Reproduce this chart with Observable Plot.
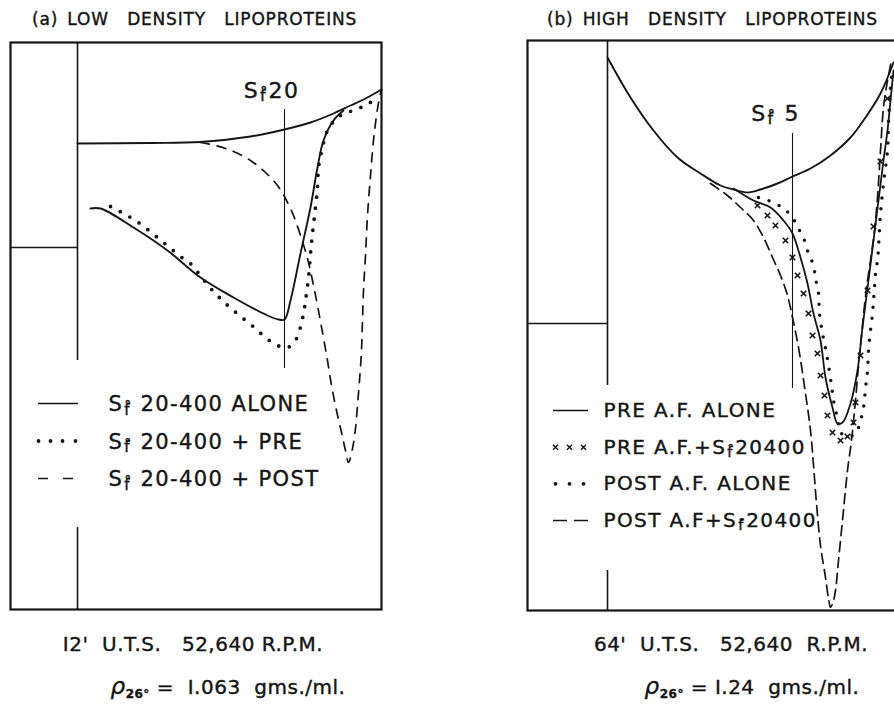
<!DOCTYPE html>
<html><head><meta charset="utf-8">
<script src="https://cdn.jsdelivr.net/npm/d3@7"></script>
<script src="https://cdn.jsdelivr.net/npm/@observablehq/plot@0.6"></script>
<style>
html,body{margin:0;padding:0;background:#fff;}
body{width:894px;height:712px;overflow:hidden;position:relative;font-family:"DejaVu Sans",sans-serif;color:#151515;}
.t{position:absolute;white-space:pre;font-size:17px;line-height:17px;letter-spacing:0.8px;word-spacing:3px;-webkit-text-stroke:0.4px #151515;}
.cap{position:absolute;white-space:pre;font-size:20px;line-height:20px;text-align:center;width:400px;letter-spacing:0.5px;-webkit-text-stroke:0.4px #151515;}
.cap i{font-size:23px;}
.cap sub{font-size:12px;font-weight:bold;vertical-align:-4px;}
.pnl{position:absolute;top:30px;width:400px;height:600px;}
.pnl text{letter-spacing:1.4px;stroke:#151515;stroke-width:0.4px;}
</style></head><body>
<div class="t" style="left:32px;top:11px">(a) LOW  DENSITY  LIPOPROTEINS</div>
<div class="t" style="left:547px;top:11px">(b) HIGH  DENSITY  LIPOPROTEINS</div>
<div id="pa" class="pnl" style="left:0px"></div>
<div id="pb" class="pnl" style="left:517px"></div>
<div class="cap" style="left:-7px;top:634px">I2'  U.T.S.   52,640 R.P.M.</div>
<div class="cap" style="left:28px;top:676px"><i>ρ</i><sub>26°</sub> =  I.063  gms./ml.</div>
<div class="cap" style="left:531px;top:634px">64'  U.T.S.   52,640  R.P.M.</div>
<div class="cap" style="left:552px;top:676px"><i>ρ</i><sub>26°</sub> = I.24  gms./ml.</div>
<script>
// ---- Panel (a) low density: x = distance from left of frame, y = height above bottom of frame ----
const aBaseline = [[67,466],[140,466.5],[190,467.5],[240,473],[274,480],[300,487],[323,496],[340,504],[355,511],[371,520]];
const aAlone = [[80,401],[90,401],[123,382],[157,359],[190,332],[223,312],[257,294],[268,290],[274,290],[280,309],[290,356],[300,402],[307,442],[313,469],[323,489],[333,499]];
const aPre = [[100,403],[113,396],[125,389],[137,380],[148,371],[158,363],[170,353],[181,345],[192,331],[203,318],[213,308],[223,299],[234,290],[245,281],[255,272],[267,264],[277,262],[285,269],[292,291],[295,309],[298,332],[300,356],[302,376],[305,402],[307,422],[308,442],[312,462],[317,479],[327,492],[337,497],[348,501],[358,506],[367,511]];
const aPost = [[190,467],[205,464],[223,458],[240,449],[255,437],[267,424],[275,411],[283,394],[290,374],[297,351],[302,329],[307,304],[312,277],[317,249],[321,224],[326,199],[331,177],[335,159],[338,147],[342,161],[345,181],[347,204],[349,229],[351,259],[352,289],[353,319],[355,354],[357,394],[360,434],[363,469],[366,494],[369,512],[371,520]];
const aCellX = [{x:67,y1:249,y2:567},{x:67,y1:0,y2:82}];
const aCellY = [{y:362,x1:0,x2:67}];
const aSfLine = [{x:274,y1:241,y2:500,label:"S°f20"}];
const aLegend = ["S°f 20-400 ALONE","S°f 20-400 + PRE","S°f 20-400 + POST"];

// ---- Panel (b) high density ----
const bBaseline = [[80,553],[103,513],[126,480],[150,453],[173,437],[193,425],[206,421],[220,418],[233,421],[250,427],[265,434],[283,442],[303,455],[323,473],[338,493],[353,517],[366,548]];
const bPreAlone = [[206,422],[226,410],[243,403],[256,390],[265,377],[273,353],[280,327],[286,297],[293,270],[298,233],[305,203],[310,187],[315,188],[323,207],[330,240],[335,283],[341,330],[346,370],[351,410],[356,450],[360,480],[363,510],[366,540]];
const bPreSf = [[230,405],[240,395],[248,385],[258,370],[265,353],[270,335],[276,317],[281,297],[285,275],[290,257],[293,235],[297,215],[300,195],[305,178],[313,170],[320,174],[326,188],[328,208],[333,255],[340,320],[346,384],[353,449],[360,512]];
const bPostAlone = [[231,413],[246,408],[256,402],[265,393],[271,382],[277,370],[281,357],[286,345],[288,332],[291,317],[292,297],[295,277],[298,262],[301,245],[304,225],[306,210],[310,192],[313,178],[321,174],[328,177],[333,190],[336,203],[338,222],[340,240],[341,260],[343,280],[345,297],[346,310],[347,323],[348,337],[350,350],[351,363],[353,397],[356,427],[360,460],[361,487],[363,523],[365,542]];
const bPostSf = [[183,427],[200,415],[213,403],[226,390],[236,373],[245,353],[253,335],[260,315],[265,293],[271,263],[278,217],[283,180],[286,145],[289,107],[293,65],[298,33],[301,12],[303,3],[306,10],[308,20],[311,50],[315,90],[320,140],[324,170],[328,210],[331,245],[334,275],[337,305],[340,330],[343,350],[347,380],[350,413],[353,460],[356,503],[360,530],[364,550]];
const bCellX = [{x:80,y1:225,y2:570},{x:80,y1:0,y2:40}];
const bCellY = [{y:287,x1:0,x2:80}];
const bSfLine = [{x:265,y1:222,y2:477,label:"S°f 5"}];
const bLegend = ["PRE A.F. ALONE","PRE A.F.+S°f20400","POST A.F. ALONE","POST A.F+S°f20400"];

const INK = "#151515";
const CURVE = "catmull-rom";

// Render "S°f" as S followed by a lowered small f carrying a ring above it.
function stackSf(svg) {
  const ns = "http://www.w3.org/2000/svg";
  svg.querySelectorAll("text").forEach(t => {
    const s = t.textContent;
    const k = s.indexOf("S°f");
    if (k < 0) return;
    const fs = parseFloat(t.closest("g").getAttribute("font-size")) || 20;
    t.style.whiteSpace = "pre";
    while (t.firstChild) t.removeChild(t.firstChild);
    t.appendChild(document.createTextNode(s.slice(0, k + 1)));
    const f = document.createElementNS(ns, "tspan");
    f.setAttribute("font-size", fs * 0.72);
    f.setAttribute("dy", fs * 0.17);
    f.setAttribute("dx", 1);
    f.textContent = "f\u030A";
    const r = document.createElementNS(ns, "tspan");
    r.setAttribute("dy", -fs * 0.17);
    r.setAttribute("dx", 1.5);
    r.textContent = s.slice(k + 3);
    t.append(f, r);
  });
}

function panel(cfg) {
  const m = [
    Plot.frame({stroke: INK, strokeWidth: 2.2}),
    Plot.ruleX(cfg.cellX, {x: "x", y1: "y1", y2: "y2", stroke: INK, strokeWidth: 1.6}),
    Plot.ruleY(cfg.cellY, {y: "y", x1: "x1", x2: "x2", stroke: INK, strokeWidth: 1.6}),
    Plot.ruleX(cfg.sf, {x: "x", y1: "y1", y2: "y2", stroke: INK, strokeWidth: 1.1}),
    Plot.text(cfg.sf, {x: d => d.x + cfg.sfDx, y: d => d.y2 + cfg.sfDy, text: "label", fontSize: 22, textAnchor: "middle", lineAnchor: "bottom", fill: INK}),
    Plot.line(cfg.baseline, {curve: CURVE, stroke: INK, strokeWidth: 1.9}),
    ...cfg.marks,
    Plot.text(cfg.legend, {x: cfg.legX, y: (d, i) => cfg.legY0 - i * cfg.legStep, text: d => d, fontSize: cfg.legFs, textAnchor: "start", lineAnchor: "middle", fill: INK})
  ];
  const svg = Plot.plot({
    width: 400, height: 600,
    marginLeft: 10, marginRight: 19, marginTop: cfg.mt, marginBottom: 600 - cfg.mt - cfg.H,
    x: {domain: [0, 371], axis: null},
    y: {domain: [0, cfg.H], axis: null},
    style: {fontFamily: "DejaVu Sans, sans-serif", background: "transparent", maxWidth: "none", overflow: "visible"},
    marks: m
  });
  stackSf(svg);
  return svg;
}

// Panel (a)
const aRows = [206, 168.5, 131];
document.getElementById("pa").appendChild(panel({
  H: 567, mt: 12, cellX: aCellX, cellY: aCellY, sf: aSfLine, sfDx: -13, sfDy: 12,
  baseline: aBaseline, legend: aLegend, legX: 98, legY0: 205, legStep: 37.5, legFs: 21,
  marks: [
    Plot.line(aAlone, {curve: CURVE, stroke: INK, strokeWidth: 1.9}),
    Plot.line(aPre, {curve: CURVE, stroke: INK, strokeWidth: 3.8, strokeDasharray: "0,11", strokeLinecap: "round"}),
    Plot.line(aPost, {curve: CURVE, stroke: INK, strokeWidth: 1.7, strokeDasharray: "9,8"}),
    Plot.ruleY([aRows[0]], {x1: 28, x2: 68, stroke: INK, strokeWidth: 1.7}),
    Plot.dot([28, 40, 52, 65], {x: d => d, y: aRows[1], r: 1.9, fill: INK}),
    Plot.ruleY([aRows[2]], {x1: 28, x2: 65, stroke: INK, strokeWidth: 1.7, strokeDasharray: "10,15"})
  ]
}));

// Panel (b)
const bRows = [200, 163.3, 126.7, 90];
document.getElementById("pb").appendChild(panel({
  H: 570, mt: 10, cellX: bCellX, cellY: bCellY, sf: bSfLine, sfDx: -17, sfDy: 13,
  baseline: bBaseline, legend: bLegend, legX: 76, legY0: 200, legStep: 36.7, legFs: 20,
  marks: [
    Plot.line(bPreAlone, {curve: CURVE, stroke: INK, strokeWidth: 1.8}),
    Plot.dot(bPreSf, {symbol: "times", r: 2.6, stroke: INK, strokeWidth: 1.6}),
    Plot.line(bPostAlone, {curve: CURVE, stroke: INK, strokeWidth: 3.5, strokeDasharray: "0,11", strokeLinecap: "round"}),
    Plot.line(bPostSf, {curve: CURVE, stroke: INK, strokeWidth: 1.7, strokeDasharray: "10,6"}),
    Plot.ruleY([bRows[0]], {x1: 26, x2: 61, stroke: INK, strokeWidth: 1.7}),
    Plot.dot([28, 42, 56], {x: d => d, y: bRows[1], symbol: "times", r: 2.4, stroke: INK, strokeWidth: 1.4}),
    Plot.dot([28, 42, 56], {x: d => d, y: bRows[2], r: 1.9, fill: INK}),
    Plot.ruleY([bRows[3]], {x1: 26, x2: 61, stroke: INK, strokeWidth: 1.7, strokeDasharray: "14,7"})
  ]
}));
</script>
</body></html>
